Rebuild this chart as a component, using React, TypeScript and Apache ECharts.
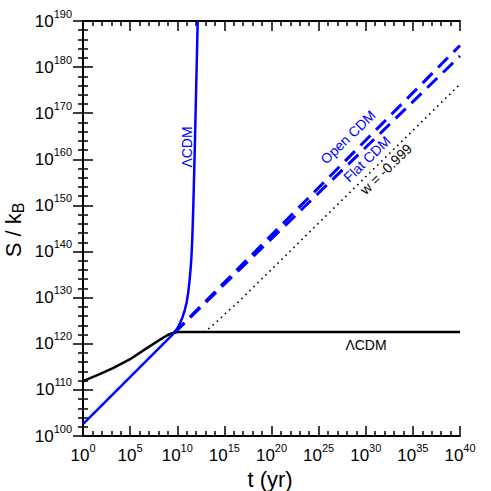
import React, { useEffect, useRef } from "react";
import * as echarts from "echarts";

// log10(t / yr)
const lcdmBlueX = [0, 9.5, 9.8, 10.05, 10.3, 10.55, 10.8, 11.0, 11.15, 11.27, 11.4, 11.5, 11.6, 11.7, 11.85, 12.17];
// log10(S / kB)
const lcdmBlueY = [102.6, 122.0, 122.8, 123.5, 124.5, 125.7, 127.3, 129.0, 130.9, 133.0, 135.8, 138.6, 143.0, 149.5, 161.5, 190.0];

const lcdmBlackX = [0, 1.77, 3.18, 4.95, 6.73, 8.49, 9.0, 9.4, 9.73, 10.1, 40];
const lcdmBlackY = [111.9, 113.4, 114.7, 116.6, 119.0, 121.3, 121.9, 122.25, 122.45, 122.55, 122.55];

const openCdmX = [9.7, 40];
const openCdmY = [122.4, 184.7];

const flatCdmX = [9.7, 40];
const flatCdmY = [122.4, 182.4];

const wDarkX = [11.0, 12.7, 13.0, 13.4, 14.0, 14.5, 15.4, 16.5, 40];
const wDarkY = [122.55, 122.55, 122.8, 123.4, 124.4, 125.4, 127.1, 129.1, 176.3];

const xTicks = [0, 5, 10, 15, 20, 25, 30, 35, 40];
const yTicks = [100, 110, 120, 130, 140, 150, 160, 170, 180, 190];

const FONT = "'Liberation Sans', Arial, Helvetica, sans-serif";
const BLUE = "#0000ff";

const pairs = (xs: number[], ys: number[]) => xs.map((x, i) => [x, ys[i]]);

export default function App() {
  const ref = useRef<HTMLDivElement>(null);
  useEffect(() => {
    if (!ref.current) return;
    const chart = echarts.init(ref.current, undefined, { renderer: "svg" });
    const labelRich = {
      b: { fontSize: 17, lineHeight: 26, verticalAlign: "middle", fontFamily: FONT, color: "#000" },
      s: { fontSize: 11, lineHeight: 11, verticalAlign: "top", fontFamily: FONT, color: "#000" },
    };
    const fmt = (v: number) => `{b|10}{s|${Math.round(v)}}`;
    const common = {
      axisLine: { show: true, lineStyle: { color: "#000", width: 2 } },
      axisTick: { show: true, inside: true, length: 10, lineStyle: { color: "#000", width: 1.5 } },
      minorTick: { show: true, splitNumber: 5, length: 5, lineStyle: { color: "#000", width: 1.5 } },
      splitLine: { show: false },
      minorSplitLine: { show: false },
    };
    chart.setOption({
      animation: false,
      backgroundColor: "#fff",
      grid: { left: 83, right: 31, top: 21, bottom: 55, containLabel: false },
      xAxis: [
        {
          type: "value",
          position: "bottom",
          min: xTicks[0],
          max: xTicks[xTicks.length - 1],
          interval: 5,
          ...common,
          axisLabel: { show: true, margin: 6, formatter: fmt, rich: labelRich, hideOverlap: false },
        },
        {
          type: "value",
          position: "top",
          min: xTicks[0],
          max: xTicks[xTicks.length - 1],
          interval: 5,
          ...common,
          axisLabel: { show: false },
        },
      ],
      yAxis: [
        {
          type: "value",
          position: "left",
          min: yTicks[0],
          max: yTicks[yTicks.length - 1],
          interval: 10,
          ...common,
          axisLabel: { show: true, margin: 11, formatter: fmt, rich: labelRich, hideOverlap: false },
        },
        {
          type: "value",
          position: "right",
          min: yTicks[0],
          max: yTicks[yTicks.length - 1],
          interval: 10,
          ...common,
          axisLabel: { show: false },
        },
      ],
      series: [
        {
          type: "line",
          name: "w = -0.999",
          data: pairs(wDarkX, wDarkY),
          showSymbol: false,
          clip: true,
          lineStyle: { color: "#000", width: 1.6, type: [1.6, 4] },
        },
        {
          type: "line",
          name: "Flat CDM",
          data: pairs(flatCdmX, flatCdmY),
          showSymbol: false,
          clip: true,
          lineStyle: { color: BLUE, width: 3, type: [14, 8] },
        },
        {
          type: "line",
          name: "Open CDM",
          data: pairs(openCdmX, openCdmY),
          showSymbol: false,
          clip: true,
          lineStyle: { color: BLUE, width: 3, type: [14, 8] },
        },
        {
          type: "line",
          name: "ΛCDM black",
          data: pairs(lcdmBlackX, lcdmBlackY),
          showSymbol: false,
          clip: true,
          lineStyle: { color: "#000", width: 2.5, join: "round" },
        },
        {
          type: "line",
          name: "ΛCDM blue",
          data: pairs(lcdmBlueX, lcdmBlueY),
          showSymbol: false,
          clip: true,
          lineStyle: { color: BLUE, width: 2.5, join: "round" },
        },
      ],
      graphic: [
        {
          type: "text",
          x: 186.5,
          y: 147,
          rotation: Math.PI / 2,
          style: { text: "ΛCDM", fontSize: 14, fontFamily: FONT, fill: BLUE, align: "center", verticalAlign: "middle" },
        },
        {
          type: "text",
          x: 348,
          y: 137,
          rotation: (44 * Math.PI) / 180,
          style: { text: "Open CDM", fontSize: 14, fontFamily: FONT, fill: BLUE, align: "center", verticalAlign: "middle" },
        },
        {
          type: "text",
          x: 367,
          y: 159,
          rotation: (44 * Math.PI) / 180,
          style: { text: "Flat CDM", fontSize: 14, fontFamily: FONT, fill: BLUE, align: "center", verticalAlign: "middle" },
        },
        {
          type: "text",
          x: 386,
          y: 169,
          rotation: (44 * Math.PI) / 180,
          style: { text: "w = -0.999", fontSize: 14, fontFamily: FONT, fill: "#000", align: "center", verticalAlign: "middle" },
        },
        {
          type: "text",
          x: 366,
          y: 345,
          style: { text: "ΛCDM", fontSize: 14, fontFamily: FONT, fill: "#000", align: "center", verticalAlign: "middle" },
        },
        {
          type: "text",
          x: 270,
          y: 479,
          style: { text: "t (yr)", fontSize: 22, fontFamily: FONT, fill: "#000", align: "center", verticalAlign: "middle" },
        },
        {
          type: "text",
          x: 13,
          y: 230,
          rotation: Math.PI / 2,
          style: {
            text: "{a|S / k}{b|B}",
            align: "center",
            verticalAlign: "middle",
            rich: {
              a: { fontSize: 22, lineHeight: 26, verticalAlign: "middle", fontFamily: FONT, fill: "#000" },
              b: { fontSize: 16, lineHeight: 16, verticalAlign: "bottom", fontFamily: FONT, fill: "#000" },
            },
          },
        },
      ],
    });
    return () => chart.dispose();
  }, []);
  return (
    <div
      ref={ref}
      style={{ position: "absolute", left: 0, top: 0, width: 491, height: 491 }}
    />
  );
}
